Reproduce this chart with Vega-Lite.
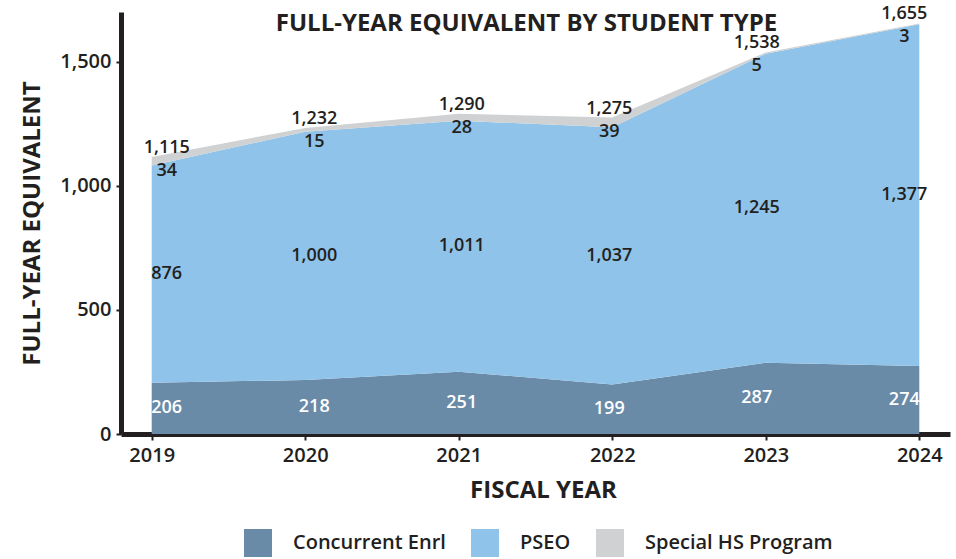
{
  "$schema": "https://vega.github.io/schema/vega-lite/v6.json",
  "width": 829,
  "height": 422,
  "autosize": "none",
  "padding": {"left": 121, "top": 12, "right": 6, "bottom": 125},
  "background": "white",
  "config": {"font": "Open Sans", "view": {"stroke": null}},
  "title": {
    "text": "FULL-YEAR EQUIVALENT BY STUDENT TYPE",
    "fontSize": 24,
    "fontWeight": "bold",
    "color": "#231f20",
    "anchor": "middle",
    "baseline": "alphabetic",
    "offset": -50,
    "dx": -9
  },
  "datasets": {
    "fte": [
      {"year": 2019, "type": "Concurrent Enrl", "value": 206},
      {"year": 2020, "type": "Concurrent Enrl", "value": 218},
      {"year": 2021, "type": "Concurrent Enrl", "value": 251},
      {"year": 2022, "type": "Concurrent Enrl", "value": 199},
      {"year": 2023, "type": "Concurrent Enrl", "value": 287},
      {"year": 2024, "type": "Concurrent Enrl", "value": 274},
      {"year": 2019, "type": "PSEO", "value": 876},
      {"year": 2020, "type": "PSEO", "value": 1000},
      {"year": 2021, "type": "PSEO", "value": 1011},
      {"year": 2022, "type": "PSEO", "value": 1037},
      {"year": 2023, "type": "PSEO", "value": 1245},
      {"year": 2024, "type": "PSEO", "value": 1377},
      {"year": 2019, "type": "Special HS Program", "value": 34},
      {"year": 2020, "type": "Special HS Program", "value": 15},
      {"year": 2021, "type": "Special HS Program", "value": 28},
      {"year": 2022, "type": "Special HS Program", "value": 39},
      {"year": 2023, "type": "Special HS Program", "value": 5},
      {"year": 2024, "type": "Special HS Program", "value": 3}
    ],
    "totals": [
      {"year": 2019, "total": 1115},
      {"year": 2020, "total": 1232},
      {"year": 2021, "total": 1290},
      {"year": 2022, "total": 1275},
      {"year": 2023, "total": 1538},
      {"year": 2024, "total": 1655}
    ]
  },
  "resolve": {"scale": {"x": "independent"}, "axis": {"x": "independent"}},
  "layer": [
    {
      "data": {"name": "fte"},
      "mark": {"type": "area", "opacity": 1},
      "encoding": {
        "x": {
          "field": "year",
          "type": "ordinal",
          "scale": {"type": "point", "padding": 0.2},
          "axis": {
            "title": "FISCAL YEAR",
            "labelAngle": 0,
            "labelFontSize": 20,
            "labelFontWeight": 600,
            "labelColor": "#231f20",
            "labelPadding": 5,
            "domainWidth": 5,
            "domainColor": "#231f20",
            "tickSize": 6,
            "tickWidth": 2,
            "tickColor": "#231f20",
            "grid": false,
            "titleFontSize": 24,
            "titleFontWeight": "bold",
            "titleColor": "#231f20",
            "titleX": 422,
            "titleY": 56,
            "titleBaseline": "middle"
          }
        },
        "y": {
          "field": "value",
          "type": "quantitative",
          "stack": "zero",
          "scale": {"domain": [0, 1700], "nice": false},
          "axis": {
            "values": [0, 500, 1000, 1500],
            "format": ",.0f",
            "title": "FULL-YEAR EQUIVALENT",
            "labelFontSize": 20,
            "labelFontWeight": 600,
            "labelColor": "#231f20",
            "labelPadding": 5,
            "domainWidth": 5,
            "domainColor": "#231f20",
            "tickSize": 5,
            "tickWidth": 2,
            "tickColor": "#231f20",
            "grid": false,
            "titleFontSize": 24,
            "titleFontWeight": "bold",
            "titleColor": "#231f20",
            "titleAngle": -90,
            "titleX": -89,
            "titleY": 211,
            "titleBaseline": "middle",
            "titleAlign": "center"
          }
        },
        "color": {
          "field": "type",
          "type": "nominal",
          "scale": {
            "domain": ["Concurrent Enrl", "PSEO", "Special HS Program"],
            "range": ["#6a8ba8", "#8fc3e9", "#cfd1d2"]
          },
          "legend": {
            "orient": "none",
            "legendX": 123,
            "legendY": 517,
            "direction": "horizontal",
            "title": null,
            "padding": 0,
            "symbolType": "square",
            "symbolSize": 784,
            "symbolStrokeWidth": 0,
            "symbolOpacity": 1,
            "labelFontSize": 20,
            "labelFontWeight": 600,
            "labelColor": "#231f20",
            "labelOffset": 21,
            "labelLimit": 400,
            "columnPadding": 25
          }
        },
        "order": {"field": "type", "sort": "ascending"}
      }
    },
    {
      "encoding": {
        "x": {
          "field": "year",
          "type": "ordinal",
          "scale": {"type": "point", "padding": 0.31},
          "axis": null
        }
      },
      "layer": [
        {
          "data": {"name": "fte"},
          "transform": [
            {"stack": "value", "groupby": ["year"], "sort": [{"field": "type", "order": "ascending"}], "as": ["v0", "v1"]},
            {"calculate": "(datum.v0 + datum.v1) / 2", "as": "mid"},
            {"filter": "datum.type === 'Concurrent Enrl'"}
          ],
          "mark": {"type": "text", "fontSize": 18, "fontWeight": 600, "color": "white", "baseline": "middle"},
          "encoding": {
            "y": {"field": "mid", "type": "quantitative"},
            "text": {"field": "value", "type": "quantitative", "format": ","}
          }
        },
        {
          "data": {"name": "fte"},
          "transform": [
            {"stack": "value", "groupby": ["year"], "sort": [{"field": "type", "order": "ascending"}], "as": ["v0", "v1"]},
            {"calculate": "(datum.v0 + datum.v1) / 2", "as": "mid"},
            {"filter": "datum.type === 'PSEO'"}
          ],
          "mark": {"type": "text", "fontSize": 18, "fontWeight": 600, "color": "#231f20", "baseline": "middle"},
          "encoding": {
            "y": {"field": "mid", "type": "quantitative"},
            "text": {"field": "value", "type": "quantitative", "format": ","}
          }
        },
        {
          "data": {"name": "fte"},
          "transform": [
            {"stack": "value", "groupby": ["year"], "sort": [{"field": "type", "order": "ascending"}], "as": ["v0", "v1"]},
            {"filter": "datum.type === 'Special HS Program'"}
          ],
          "mark": {"type": "text", "fontSize": 18, "fontWeight": 600, "color": "#231f20", "baseline": "top", "dy": 5},
          "encoding": {
            "y": {"field": "v1", "type": "quantitative"},
            "text": {"field": "value", "type": "quantitative", "format": ","}
          }
        },
        {
          "data": {"name": "totals"},
          "mark": {"type": "text", "fontSize": 18, "fontWeight": 600, "color": "#231f20", "baseline": "alphabetic", "dy": -4},
          "encoding": {
            "y": {"field": "total", "type": "quantitative"},
            "text": {"field": "total", "type": "quantitative", "format": ","}
          }
        }
      ]
    }
  ]
}
